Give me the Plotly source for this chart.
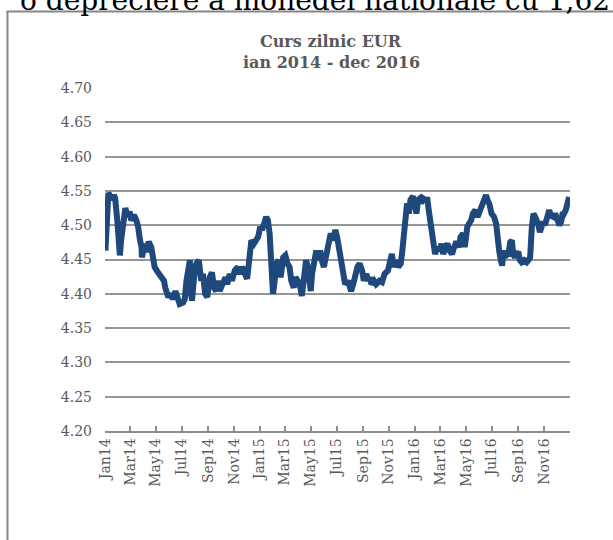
import plotly.graph_objects as go

# Daily EUR/RON rate, Jan 2014 - Dec 2016
dates = [
    "2014-01-02", "2014-01-04", "2014-01-09", "2014-01-14", "2014-01-17", "2014-01-22", "2014-01-25",
    "2014-01-30", "2014-01-31", "2014-02-05", "2014-02-08", "2014-02-12", "2014-02-18", "2014-02-23",
    "2014-02-28", "2014-03-04", "2014-03-10", "2014-03-16", "2014-03-20", "2014-03-24", "2014-03-28",
    "2014-03-29", "2014-04-05", "2014-04-08", "2014-04-14", "2014-04-20", "2014-04-24", "2014-04-28",
    "2014-05-06", "2014-05-14", "2014-05-20", "2014-05-23", "2014-05-26", "2014-05-30", "2014-06-05",
    "2014-06-10", "2014-06-16", "2014-06-20", "2014-06-26", "2014-07-04", "2014-07-08", "2014-07-12",
    "2014-07-16", "2014-07-20", "2014-07-22", "2014-07-25", "2014-07-30", "2014-08-04", "2014-08-10",
    "2014-08-16", "2014-08-20", "2014-08-25", "2014-08-30", "2014-09-05", "2014-09-10", "2014-09-15",
    "2014-09-20", "2014-09-24", "2014-09-28", "2014-10-06", "2014-10-12", "2014-10-16", "2014-10-22",
    "2014-10-27", "2014-11-03", "2014-11-10", "2014-11-14", "2014-11-20", "2014-11-26", "2014-12-02",
    "2014-12-06", "2014-12-12", "2014-12-18", "2014-12-24", "2014-12-28", "2015-01-02", "2015-01-06",
    "2015-01-11", "2015-01-16", "2015-01-20", "2015-01-24", "2015-01-28", "2015-02-01", "2015-02-05",
    "2015-02-09", "2015-02-14", "2015-02-19", "2015-02-25", "2015-03-02", "2015-03-07", "2015-03-12",
    "2015-03-16", "2015-03-22", "2015-03-26", "2015-03-30", "2015-04-05", "2015-04-10", "2015-04-15",
    "2015-04-20", "2015-04-24", "2015-05-01", "2015-05-04", "2015-05-09", "2015-05-14", "2015-05-18",
    "2015-05-23", "2015-05-27", "2015-06-01", "2015-06-04", "2015-06-09", "2015-06-12", "2015-06-17",
    "2015-06-22", "2015-06-28", "2015-07-02", "2015-07-06", "2015-07-11", "2015-07-16", "2015-07-21",
    "2015-07-28", "2015-08-01", "2015-08-04", "2015-08-09", "2015-08-14", "2015-08-19", "2015-08-24",
    "2015-08-30", "2015-09-03", "2015-09-09", "2015-09-13", "2015-09-17", "2015-09-21", "2015-09-27",
    "2015-10-02", "2015-10-10", "2015-10-16", "2015-10-22", "2015-10-30", "2015-11-03", "2015-11-08",
    "2015-11-13", "2015-11-19", "2015-11-23", "2015-11-29", "2015-12-02", "2015-12-07", "2015-12-10",
    "2015-12-14", "2015-12-18", "2015-12-22", "2015-12-28", "2016-01-01", "2016-01-05", "2016-01-09",
    "2016-01-13", "2016-01-16", "2016-01-21", "2016-01-26", "2016-01-31", "2016-02-03", "2016-02-08",
    "2016-02-11", "2016-02-15", "2016-02-18", "2016-02-23", "2016-02-29", "2016-03-04", "2016-03-08",
    "2016-03-13", "2016-03-18", "2016-03-23", "2016-03-29", "2016-04-03", "2016-04-08", "2016-04-14",
    "2016-04-18", "2016-04-24", "2016-04-28", "2016-05-04", "2016-05-10", "2016-05-13", "2016-05-17",
    "2016-05-23", "2016-05-28", "2016-06-02", "2016-06-08", "2016-06-14", "2016-06-17", "2016-06-21",
    "2016-06-25", "2016-06-30", "2016-07-06", "2016-07-11", "2016-07-14", "2016-07-18", "2016-07-22",
    "2016-07-25", "2016-07-28", "2016-08-01", "2016-08-05", "2016-08-09", "2016-08-13", "2016-08-17",
    "2016-08-20", "2016-08-24", "2016-08-28", "2016-09-01", "2016-09-05", "2016-09-09", "2016-09-15",
    "2016-09-21", "2016-09-25", "2016-09-29", "2016-10-03", "2016-10-07", "2016-10-11", "2016-10-15",
    "2016-10-18", "2016-10-22", "2016-10-26", "2016-10-30", "2016-11-03", "2016-11-07", "2016-11-13",
    "2016-11-17", "2016-11-23", "2016-11-27", "2016-12-02", "2016-12-07", "2016-12-11", "2016-12-15",
    "2016-12-18", "2016-12-22", "2016-12-27", "2016-12-30",
]

eur_ron = [
    4.463, 4.493, 4.547, 4.542, 4.537, 4.544, 4.539,
    4.507, 4.493, 4.456, 4.478, 4.502, 4.525, 4.512,
    4.520, 4.507, 4.515, 4.507, 4.498, 4.480, 4.468,
    4.453, 4.473, 4.461, 4.476, 4.468, 4.453, 4.439,
    4.431, 4.424, 4.419, 4.409, 4.402, 4.395, 4.400,
    4.392, 4.404, 4.395, 4.385, 4.387, 4.392, 4.419,
    4.439, 4.449, 4.404, 4.390, 4.424, 4.444, 4.449,
    4.419, 4.429, 4.400, 4.395, 4.424, 4.431, 4.409,
    4.404, 4.419, 4.404, 4.419, 4.424, 4.414, 4.429,
    4.419, 4.434, 4.439, 4.429, 4.439, 4.427, 4.422,
    4.444, 4.478, 4.473, 4.478, 4.483, 4.498, 4.493,
    4.502, 4.512, 4.507, 4.488, 4.444, 4.400, 4.419,
    4.444, 4.449, 4.424, 4.453, 4.456, 4.444, 4.439,
    4.419, 4.409, 4.424, 4.419, 4.414, 4.397, 4.419,
    4.449, 4.439, 4.404, 4.429, 4.449, 4.463, 4.449,
    4.463, 4.449, 4.439, 4.449, 4.468, 4.478, 4.488,
    4.478, 4.493, 4.483, 4.468, 4.439, 4.424, 4.414,
    4.419, 4.409, 4.404, 4.414, 4.429, 4.439, 4.444,
    4.434, 4.419, 4.429, 4.419, 4.424, 4.414, 4.419,
    4.414, 4.419, 4.417, 4.429, 4.434, 4.449, 4.458,
    4.439, 4.449, 4.439, 4.444, 4.458, 4.493, 4.527,
    4.532, 4.517, 4.537, 4.542, 4.522, 4.517, 4.537,
    4.539, 4.532, 4.539, 4.537, 4.537, 4.522, 4.502,
    4.478, 4.468, 4.458, 4.468, 4.463, 4.473, 4.458,
    4.468, 4.473, 4.463, 4.458, 4.468, 4.476, 4.468,
    4.483, 4.488, 4.468, 4.498, 4.502, 4.507, 4.517,
    4.522, 4.512, 4.520, 4.527, 4.542, 4.544, 4.536,
    4.531, 4.517, 4.512, 4.502, 4.478, 4.463, 4.449,
    4.441, 4.463, 4.453, 4.458, 4.458, 4.475, 4.478,
    4.458, 4.453, 4.458, 4.461, 4.449, 4.446, 4.449,
    4.446, 4.449, 4.453, 4.497, 4.517, 4.512, 4.507,
    4.502, 4.490, 4.497, 4.505, 4.500, 4.512, 4.522,
    4.514, 4.512, 4.517, 4.507, 4.500, 4.505, 4.519,
    4.517, 4.522, 4.536, 4.541,
]

tick_dates = [
    "2014-01-01", "2014-03-01", "2014-05-01", "2014-07-01", "2014-09-01", "2014-11-01",
    "2015-01-01", "2015-03-01", "2015-05-01", "2015-07-01", "2015-09-01", "2015-11-01",
    "2016-01-01", "2016-03-01", "2016-05-01", "2016-07-01", "2016-09-01", "2016-11-01",
    "2017-01-01",
]
tick_labels = [
    "Jan14", "Mar14", "May14", "Jul14", "Sep14", "Nov14",
    "Jan15", "Mar15", "May15", "Jul15", "Sep15", "Nov15",
    "Jan16", "Mar16", "May16", "Jul16", "Sep16", "Nov16",
    "",
]
y_ticks = [4.20, 4.25, 4.30, 4.35, 4.40, 4.45, 4.50, 4.55, 4.60, 4.65, 4.70]

title_line1 = "Curs zilnic EUR"
title_line2 = "ian 2014 - dec 2016"
header_text = "o depreciere a monedei nationale cu 1,62%"

W, H = 613, 540
L, R, T, B = 105, 43, 88, 109
pw, ph = W - L - R, H - T - B


def px_x(x):
    return (x - L) / pw


def px_y(y):
    return (H - B - y) / ph


SERIF = "DejaVu Serif"
GREY = "#595959"

fig = go.Figure()
fig.add_trace(go.Scatter(
    x=dates, y=eur_ron, mode="lines",
    line=dict(color="#1F497D", width=6),
    showlegend=False, hoverinfo="skip",
))

fig.update_layout(
    width=W, height=H,
    margin=dict(l=L, r=R, t=T, b=B),
    paper_bgcolor="white", plot_bgcolor="white",
    font=dict(family=SERIF, color=GREY, size=14),
    xaxis=dict(
        type="date",
        range=["2014-01-01", "2017-01-01"],
        tickvals=tick_dates, ticktext=tick_labels,
        tickangle=-90,
        ticks="inside", ticklen=5, tickcolor="#8c8c8c", tickwidth=1.5,
        showline=True, linecolor="#8c8c8c", linewidth=1.5,
        showgrid=False, zeroline=False,
        tickfont=dict(family=SERIF, size=14, color=GREY),
    ),
    yaxis=dict(
        range=[4.20, 4.70],
        tickvals=y_ticks, tickformat=".2f",
        showgrid=True, gridcolor="#969696", gridwidth=1.5,
        showline=False, zeroline=False, ticks="",
        tickfont=dict(family=SERIF, size=14, color=GREY),
        ticklabelstandoff=12,
    ),
    annotations=[
        dict(text="<b>" + title_line1 + "</b>", xref="paper", yref="paper",
             x=px_x(331), y=px_y(42), xanchor="center", yanchor="middle", showarrow=False,
             font=dict(family=SERIF, size=16, color=GREY)),
        dict(text="<b>" + title_line2 + "</b>", xref="paper", yref="paper",
             x=px_x(331), y=px_y(62), xanchor="center", yanchor="middle", showarrow=False,
             font=dict(family=SERIF, size=16, color=GREY)),
        dict(text=header_text, xref="paper", yref="paper",
             x=px_x(18), y=px_y(0), xanchor="left", yanchor="middle", showarrow=False,
             font=dict(family=SERIF, size=28, color="black")),
    ],
    shapes=[
        dict(type="line", xref="paper", yref="paper",
             x0=px_x(7.5), x1=px_x(7.5), y0=px_y(11), y1=px_y(545),
             line=dict(color="#868686", width=2)),
        dict(type="line", xref="paper", yref="paper",
             x0=px_x(6.5), x1=px_x(620), y0=px_y(11.5), y1=px_y(11.5),
             line=dict(color="#868686", width=2)),
    ],
)

fig.write_html(
    "out.html",
    config={"displayModeBar": False},
    post_script="document.body.style.margin='0px';",
)
